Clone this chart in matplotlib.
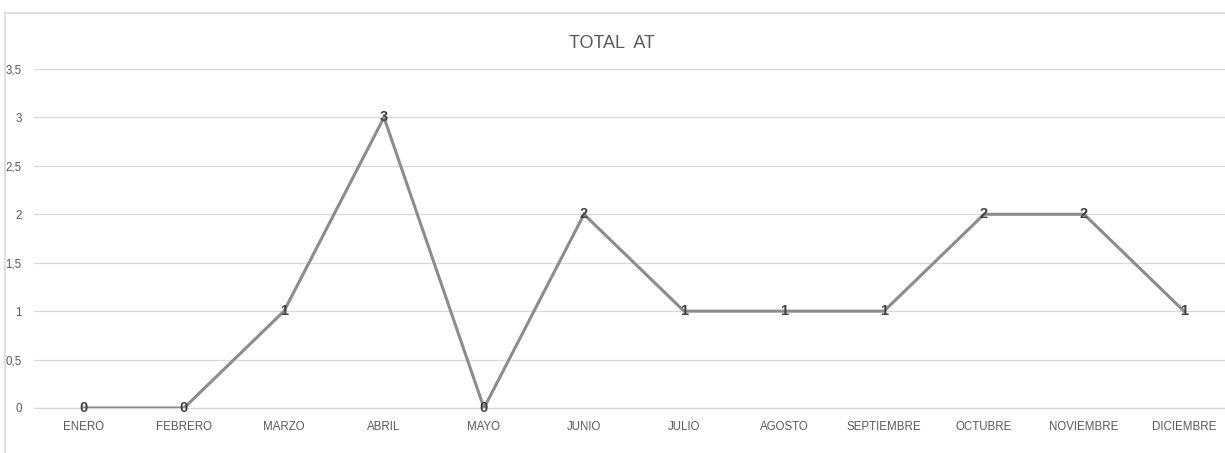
import matplotlib
matplotlib.use("Agg")
from matplotlib import pyplot as plt
from matplotlib.lines import Line2D
from matplotlib.ticker import FuncFormatter

months = ['ENERO', 'FEBRERO', 'MARZO', 'ABRIL', 'MAYO', 'JUNIO', 'JULIO',
          'AGOSTO', 'SEPTIEMBRE', 'OCTUBRE', 'NOVIEMBRE', 'DICIEMBRE']
total_at = [0, 0, 1, 3, 0, 2, 1, 1, 1, 2, 2, 1]
y_ticks = [0, 0.5, 1, 1.5, 2, 2.5, 3, 3.5]

plt.rcParams['font.family'] = ['Liberation Sans', 'DejaVu Sans']

W, H = 1225, 453
fig = plt.figure(figsize=(W / 100, H / 100), dpi=100)

# plot area runs a bit past the right edge, like the chart it comes from
left, right, bottom, top = 34, 1234, 408, 69
ax = fig.add_axes([left / W, (H - bottom) / H, (right - left) / W,
                   (bottom - top) / H])

x = list(range(len(months)))
ax.plot(x, total_at, color='#8c8c8c', lw=2.2, solid_joinstyle='miter',
        zorder=3)
for xi, v in zip(x, total_at):
    ax.text(xi, v, str(v), ha='center', va='center', fontsize=10.5,
            color='#404040', fontweight='bold', zorder=4)

ax.set_xlim(-0.5, len(months) - 0.5)
ax.set_ylim(0, 3.5)
ax.set_yticks(y_ticks)
ax.yaxis.set_major_formatter(
    FuncFormatter(lambda v, _: ('%g' % v).replace('.', ',')))
ax.set_xticks(x)
ax.set_xticklabels(months)
ax.tick_params(axis='both', length=0, labelsize=8.3, labelcolor='#595959')
ax.tick_params(axis='x', pad=9.5)
ax.tick_params(axis='y', pad=9)
ax.grid(axis='y', color='#d9d9d9', lw=0.9)
ax.set_axisbelow(True)
for side in ['top', 'right', 'left']:
    ax.spines[side].set_visible(False)
ax.spines['bottom'].set_color('#d9d9d9')
ax.spines['bottom'].set_linewidth(0.9)

fig.text(612 / W, 1 - 43 / H, 'TOTAL  AT', ha='center', va='center',
         fontsize=13, color='#595959')

# chart frame: only its top and left edges are inside the image
fig.add_artist(Line2D([5 / W, 1], [1 - 13 / H, 1 - 13 / H],
                      color='#d9d9d9', lw=1.2))
fig.add_artist(Line2D([5 / W, 5 / W], [0, 1 - 13 / H],
                      color='#d9d9d9', lw=1.2))

fig.savefig('out.png', dpi=100)
